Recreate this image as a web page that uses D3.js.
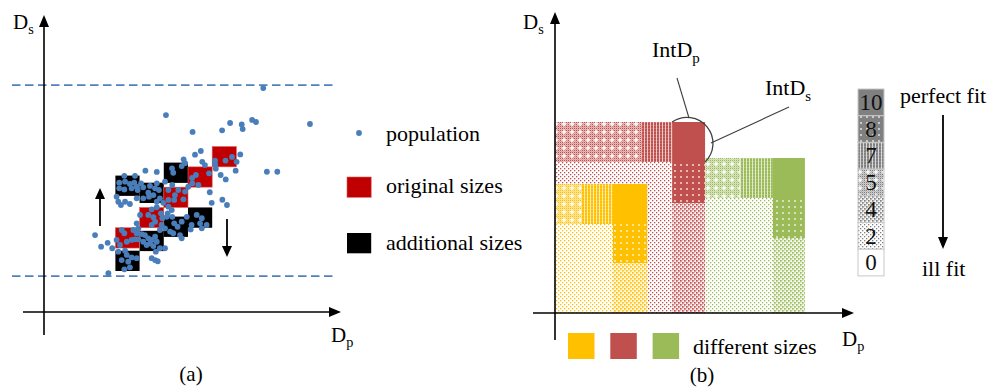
<!DOCTYPE html>
<html><head><meta charset="utf-8">
<script src="https://cdn.jsdelivr.net/npm/d3@7"></script>
<style>
html,body{margin:0;padding:0;background:#fff;}
svg{display:block;font-family:"Liberation Serif","Times New Roman",serif;}
</style></head><body>
<svg id="chart" width="1002" height="387"></svg>
<script>
// ---------- panel (a): population scatter with sizes ----------
const popDp = [
  9.06,10.99,5.04,6.14,7.36,7.69,8.17,8.21,8.60,8.76,
  9.21,9.64,6.48,6.24,5.77,6.54,7.07,7.07,7.10,7.50,
  7.77,8.11,7.96,7.92,7.30,7.51,6.82,6.65,6.85,6.93,
  7.37,7.56,6.72,6.52,6.06,5.90,6.31,6.13,6.38,4.19,
  4.66,3.32,3.76,5.29,5.34,5.83,5.69,3.11,3.35,3.55,
  3.73,3.83,3.11,3.32,3.62,3.87,4.01,4.10,4.38,4.59,
  4.66,4.75,4.31,4.52,5.00,5.14,5.30,5.41,5.55,5.83,
  5.96,3.07,3.35,3.55,3.18,3.83,4.10,4.34,4.79,4.66,
  4.93,5.14,5.28,5.38,5.11,5.07,4.45,4.66,3.97,4.31,
  4.52,4.59,4.45,4.83,4.89,3.83,3.90,5.30,5.38,5.52,
  5.69,6.10,6.52,6.45,2.11,2.36,2.63,2.82,3.00,3.21,
  3.32,3.14,3.42,3.62,3.76,3.90,4.10,4.24,4.38,4.45,
  3.69,3.83,4.04,4.59,4.66,4.52,4.79,4.62,4.17,4.31,
  5.00,4.45,4.59,4.70,3.07,3.35,3.42,3.21,3.48,3.62,
  3.83,3.32,3.55,2.66,4.86,5.00,4.79,5.21,5.34,5.62,
  5.69,6.28,6.12,5.76,5.14,3.00
];
const popDs = [
  11.03,9.26,9.70,8.87,8.95,9.31,9.24,9.01,9.46,9.36,
  6.91,6.91,7.93,7.75,7.52,7.40,7.46,7.27,7.06,7.46,
  7.64,7.76,7.40,6.96,6.75,6.53,6.83,7.24,5.90,5.38,
  5.53,5.27,4.29,4.12,4.07,4.69,4.78,6.34,6.26,6.96,
  6.90,6.71,6.71,7.08,6.86,7.33,7.19,6.37,6.42,6.31,
  6.37,6.17,6.09,6.04,6.09,6.01,6.34,6.14,6.21,6.09,
  6.34,6.01,5.88,5.76,6.42,6.01,6.26,5.76,6.01,5.93,
  6.17,5.43,5.43,5.32,5.27,5.60,5.60,5.68,5.60,5.43,
  5.38,5.19,5.02,5.52,4.86,4.69,5.06,5.16,4.78,4.78,
  4.67,4.45,4.29,4.86,4.62,4.37,4.12,4.69,4.37,4.20,
  4.45,4.29,4.62,4.37,3.79,3.22,3.41,3.14,3.55,4.04,
  3.88,3.30,3.46,3.55,3.58,3.58,3.46,3.30,3.38,3.55,
  4.04,3.88,3.84,3.71,3.46,3.25,3.14,2.97,3.79,3.63,
  3.14,2.65,2.56,2.50,2.97,3.02,2.81,2.56,2.48,2.69,
  2.65,2.10,2.20,1.91,4.29,4.12,4.04,3.96,3.88,3.79,
  3.63,6.75,6.60,5.55,5.52,5.68
];
// lower-left corners of the size boxes
const originalDp = [2.95, 3.95, 4.95, 5.95, 6.95];
const originalDs = [3.15, 4.15, 5.15, 6.15, 7.15];
const additionalDp = [2.95, 3.95, 4.95, 2.95, 3.95, 4.95, 5.95];
const additionalDs = [5.72, 5.37, 6.36, 2.02, 3.00, 3.70, 4.15];
const limitDs = [11.18, 1.77];
const legendA = ["population", "original sizes", "additional sizes"];

// ---------- panel (b): fit grades of three sizes ----------
const sizeNames = ["yellow", "red", "green"];
const sizeColors = ["#ffc000", "#c0504d", "#9bbb59"];
// [size, dp from, dp to, ds from, ds to, fit grade]
const fitCells = [
  ["red",    0.00, 3.66, 0.00, 7.55, 2],
  ["red",    0.00, 2.72, 7.55, 9.55, 5],
  ["red",    2.72, 3.66, 7.55, 9.55, 7],
  ["red",    3.66, 4.69, 0.00, 5.50, 4],
  ["red",    3.66, 4.69, 5.50, 7.55, 8],
  ["red",    3.66, 4.69, 7.55, 9.55, 10],
  ["yellow", 0.00, 1.81, 0.00, 4.45, 2],
  ["yellow", 0.00, 0.84, 4.45, 6.45, 5],
  ["yellow", 0.84, 1.81, 4.45, 6.45, 7],
  ["yellow", 1.81, 2.88, 0.00, 2.50, 4],
  ["yellow", 1.81, 2.88, 2.50, 4.45, 8],
  ["yellow", 1.81, 2.88, 4.45, 6.45, 10],
  ["green",  4.69, 6.81, 0.00, 5.75, 2],
  ["green",  4.69, 5.78, 5.75, 7.75, 5],
  ["green",  5.78, 6.81, 5.75, 7.75, 7],
  ["green",  6.81, 7.81, 0.00, 3.75, 4],
  ["green",  6.81, 7.81, 3.75, 5.75, 8],
  ["green",  6.81, 7.81, 5.75, 7.75, 10]
];
const fitLevels = [10, 8, 7, 5, 4, 2, 0];
const fitLabels = ["perfect fit", "ill fit"];

const svg = d3.select("#chart");
const defs = svg.append("defs");
const ink = "#000";

// ---- texture fills for the fit grades ----
function addPattern(id, color, fit) {
  const size = {8: [6, 6], 7: [3, 3], 5: [8, 8], 4: [4, 4], 2: [4, 4]}[fit];
  const p = defs.append("pattern").attr("id", id)
    .attr("patternUnits", "userSpaceOnUse")
    .attr("width", size[0]).attr("height", size[1]);
  const r = (x, y, w, h, fill, op) => p.append("rect")
    .attr("x", x).attr("y", y).attr("width", w).attr("height", h)
    .attr("fill", fill).attr("fill-opacity", op == null ? 1 : op);
  r(0, 0, size[0], size[1], "#fff");
  if (fit === 8) {
    r(0, 0, 6, 6, color);
    r(2.2, 2.2, 1.6, 1.6, "#fff", 0.9);
  } else if (fit === 7) {
    r(0, 0, 2, 3, color);
    r(2, 0, 1, 3, color, 0.3);
    r(0, 2.5, 2, 0.5, "#fff", 0.35);
  } else if (fit === 5) {
    for (let i = 0; i < 4; i++) for (let j = 0; j < 4; j++) {
      r(2 * i, 2 * j, 1.4, 1.4, color);
      r(2 * i + 1, 2 * j + 1, 1, 1, color, 0.45);
    }
    r(3.3, 1.5, 1.4, 5, "#fff");
    r(1.5, 3.3, 5, 1.4, "#fff");
  } else if (fit === 4) {
    r(0, 0, 1.7, 1.7, color);
    r(2, 2, 1.7, 1.7, color);
    r(2, 0, 1.4, 1.4, color, 0.35);
    r(0, 2, 1.4, 1.4, color, 0.35);
  } else if (fit === 2) {
    r(0, 0, 1.3, 1.3, color);
    r(2, 2, 1.3, 1.3, color);
  }
}
const palette = sizeNames.map((n, i) => [n, sizeColors[i]]).concat([["grey", "#808080"]]);
palette.forEach(([n, c]) => [8, 7, 5, 4, 2].forEach(f => addPattern(`p-${n}-${f}`, c, f)));
function fitFill(name, fit) {
  if (fit === 0) return "#fff";
  if (fit === 10) return name === "grey" ? "#808080" : sizeColors[sizeNames.indexOf(name)];
  return `url(#p-${name}-${fit})`;
}

// ---- helpers ----
function arrow(g, x1, y1, x2, y2, width, head, half) {
  const a = Math.atan2(y2 - y1, x2 - x1);
  const bx = x2 - head * Math.cos(a), by = y2 - head * Math.sin(a);
  g.append("line").attr("x1", x1).attr("y1", y1).attr("x2", bx).attr("y2", by)
    .attr("stroke", ink).attr("stroke-width", width);
  const px = -Math.sin(a) * half, py = Math.cos(a) * half;
  g.append("path")
    .attr("d", `M${x2},${y2}L${bx + px},${by + py}L${bx - px},${by - py}Z`)
    .attr("fill", ink);
}
function subLabel(g, x, y, main, sub, size, anchor) {
  const t = g.append("text").attr("x", x).attr("y", y)
    .attr("font-size", size).attr("fill", ink)
    .attr("text-anchor", anchor || "start").text(main);
  t.append("tspan").attr("font-size", size * 0.68).attr("dy", size * 0.25).text(sub);
  return t;
}

// =================== panel (a) ===================
const xA = d3.scaleLinear().domain([0, 12]).range([44, 334.4]);
const yA = d3.scaleLinear().domain([0, 14]).range([312, 27.8]);
const gA = svg.append("g");
const cellW = xA(1) - xA(0), cellH = yA(0) - yA(1);

gA.selectAll("line.limit").data(limitDs).enter().append("line")
  .attr("class", "limit")
  .attr("x1", 12).attr("x2", 333)
  .attr("y1", d => yA(d)).attr("y2", d => yA(d))
  .attr("stroke", "#4f81bd").attr("stroke-width", 1.8)
  .attr("stroke-dasharray", "8.5,4.5");

gA.selectAll("rect.add").data(additionalDp).enter().append("rect")
  .attr("class", "add")
  .attr("x", d => xA(d)).attr("y", (d, i) => yA(additionalDs[i] + 1))
  .attr("width", cellW).attr("height", cellH).attr("fill", "#000");
gA.selectAll("rect.orig").data(originalDp).enter().append("rect")
  .attr("class", "orig")
  .attr("x", d => xA(d)).attr("y", (d, i) => yA(originalDs[i] + 1))
  .attr("width", cellW).attr("height", cellH).attr("fill", "#c00000")
  .attr("stroke", "#e06060").attr("stroke-width", 0.6);

gA.selectAll("circle.pop").data(popDp).enter().append("circle")
  .attr("class", "pop")
  .attr("cx", d => xA(d)).attr("cy", (d, i) => yA(popDs[i]))
  .attr("r", 2.9).attr("fill", "#4a7ebb");

// axes of (a)
arrow(gA, xA(0), 335, xA(0), 15, 1.6, 12, 5);
arrow(gA, 23, yA(0), 341, yA(0), 1.6, 12, 5);
subLabel(gA, 13, 29, "D", "s", 21);
subLabel(gA, 331, 342, "D", "p", 21);
gA.append("text").attr("x", 191).attr("y", 381).attr("text-anchor", "middle")
  .attr("font-size", 21).text("(a)");

// shift arrows
arrow(gA, 100, 226, 100, 188, 1.8, 11, 5);
arrow(gA, 227, 219, 227, 257, 1.8, 11, 5);

// legend (a)
const legA = gA.append("g");
legA.append("circle").attr("cx", 359).attr("cy", 133).attr("r", 2.9).attr("fill", "#4a7ebb");
legA.append("rect").attr("x", 347).attr("y", 177).attr("width", cellW).attr("height", cellH)
  .attr("fill", "#c00000").attr("stroke", "#e06060").attr("stroke-width", 0.6);
legA.append("rect").attr("x", 347).attr("y", 233).attr("width", cellW).attr("height", cellH).attr("fill", "#000");
legA.selectAll("text").data(legendA).enter().append("text")
  .attr("x", 386).attr("y", (d, i) => [141, 193, 250][i])
  .attr("font-size", 22).text(d => d);

// =================== panel (b) ===================
const xB = d3.scaleLinear().domain([0, 9.25]).range([555, 851]);
const yB = d3.scaleLinear().domain([0, 14.5]).range([313, 23]);
const gB = svg.append("g");

const order = ["red", "yellow", "green"];
const cells = fitCells.slice().sort((a, b) => order.indexOf(a[0]) - order.indexOf(b[0]));
gB.selectAll("rect.fit").data(cells).enter().append("rect")
  .attr("class", "fit")
  .attr("x", d => xB(d[1])).attr("y", d => yB(d[4]))
  .attr("width", d => xB(d[2]) - xB(d[1])).attr("height", d => yB(d[3]) - yB(d[4]))
  .attr("fill", d => fitFill(d[0], d[5]));

// intersection marker on the red size
const redTop = fitCells.find(d => d[0] === "red" && d[5] === 10);
gB.append("path")
  .attr("d", `M${xB(redTop[1])},${yB(redTop[4])} A26,26 0 0 1 ${xB(redTop[2])},${yB(redTop[3])}`)
  .attr("fill", "none").attr("stroke", "#404040").attr("stroke-width", 1.3);
gB.append("line").attr("x1", 677).attr("y1", 78).attr("x2", 689).attr("y2", 118)
  .attr("stroke", "#404040").attr("stroke-width", 1.1);
gB.append("line").attr("x1", 789).attr("y1", 107).attr("x2", 711).attr("y2", 143)
  .attr("stroke", "#404040").attr("stroke-width", 1.1);
subLabel(gB, 652, 57, "IntD", "p", 22);
subLabel(gB, 765, 95, "IntD", "s", 22);

// axes of (b)
arrow(gB, xB(0), 340, xB(0), 12, 1.6, 12, 5);
arrow(gB, 533, yB(0), 854, yB(0), 1.6, 12, 5);
subLabel(gB, 523, 29, "D", "s", 21);
subLabel(gB, 842, 346, "D", "p", 21);
gB.append("text").attr("x", 702).attr("y", 382).attr("text-anchor", "middle")
  .attr("font-size", 21).text("(b)");

// size swatches
gB.selectAll("rect.sw").data(sizeColors).enter().append("rect")
  .attr("class", "sw")
  .attr("x", (d, i) => 568 + i * 42.3).attr("y", 333)
  .attr("width", 26.5).attr("height", 26).attr("fill", d => d);
gB.append("text").attr("x", 693).attr("y", 354).attr("font-size", 22).text("different sizes");

// fit grade scale
const boxH = 26.7;
const gL = svg.append("g");
gL.selectAll("rect.lv").data(fitLevels).enter().append("rect")
  .attr("class", "lv")
  .attr("x", 858).attr("y", (d, i) => 89 + i * boxH)
  .attr("width", 26).attr("height", boxH)
  .attr("fill", d => fitFill("grey", d))
  .attr("stroke", "#c8c8c8").attr("stroke-width", 1);
gL.selectAll("text.lv").data(fitLevels).enter().append("text")
  .attr("class", "lv")
  .attr("x", 871).attr("y", (d, i) => 89 + i * boxH + 21)
  .attr("text-anchor", "middle").attr("font-size", 23).attr("fill", "#111")
  .text(d => d);
gL.append("text").attr("x", 900).attr("y", 103).attr("font-size", 22).text(fitLabels[0]);
gL.append("text").attr("x", 922).attr("y", 276).attr("font-size", 22).text(fitLabels[1]);
arrow(gL, 943, 115, 943, 249, 1.8, 12, 5);
</script>
</body></html>
